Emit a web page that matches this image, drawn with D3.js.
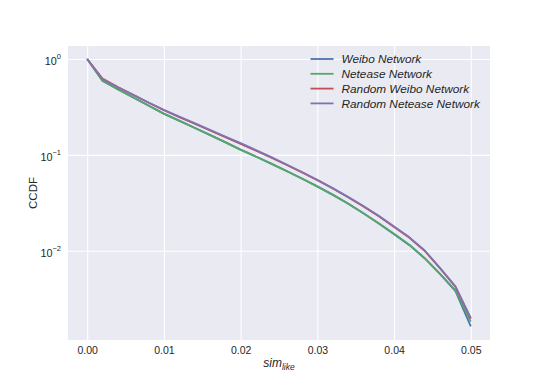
<!DOCTYPE html>
<html>
<head>
<meta charset="utf-8">
<script src="https://cdn.jsdelivr.net/npm/d3@7"></script>
<style>
  body { margin: 0; background: #fff; }
  svg text { font-family: "Liberation Sans", Arial, sans-serif; fill: #262626; }
</style>
</head>
<body>
<div id="chart"></div>
<script>
// x positions (sim_like)
const simLike = [0, 0.002, 0.004, 0.006, 0.008, 0.010, 0.012, 0.014, 0.016, 0.018, 0.020,
  0.022, 0.024, 0.026, 0.028, 0.030, 0.032, 0.034, 0.036, 0.038, 0.040,
  0.042, 0.044, 0.046, 0.048, 0.050];

// CCDF values
const weibo = [1.0, 0.592, 0.483, 0.398, 0.3265, 0.269, 0.2275, 0.1918, 0.1618, 0.1357, 0.1134,
  0.0961, 0.0811, 0.0680, 0.0567, 0.0469, 0.0385, 0.0311, 0.0246, 0.0193, 0.0149,
  0.01145, 0.00832, 0.00570, 0.00380, 0.00163];
const netease = [1.0, 0.590, 0.481, 0.396, 0.3248, 0.2674, 0.226, 0.1906, 0.1608, 0.1349, 0.1127,
  0.0955, 0.0806, 0.0676, 0.0564, 0.0467, 0.0383, 0.0310, 0.0246, 0.0194, 0.01503,
  0.01155, 0.00839, 0.00576, 0.00386, 0.00183];
const randomWeibo = [1.0, 0.625, 0.509, 0.423, 0.350, 0.292, 0.2475, 0.2110, 0.1795, 0.1530, 0.1302,
  0.1105, 0.0932, 0.0784, 0.0655, 0.0544, 0.0446, 0.0362, 0.0290, 0.0229, 0.0177,
  0.01365, 0.00995, 0.00655, 0.00420, 0.00196];
const randomNetease = [1.0, 0.614, 0.505, 0.422, 0.3513, 0.2942, 0.2506, 0.2139, 0.1822, 0.1555, 0.1324,
  0.1122, 0.0946, 0.0794, 0.0662, 0.0549, 0.0450, 0.0365, 0.0293, 0.0232, 0.0179,
  0.01382, 0.01007, 0.0066, 0.00425, 0.00199];

const seriesNames = ["Weibo Network", "Netease Network", "Random Weibo Network", "Random Netease Network"];
const seriesValues = [weibo, netease, randomWeibo, randomNetease];
const colors = ["#4C72B0", "#55A868", "#C44E52", "#8172B2"];

const xTicks = [0, 0.01, 0.02, 0.03, 0.04, 0.05];
const yTicks = [1, 0.1, 0.01];
const yExponents = ["0", "\u22121", "\u22122"];

const W = 545, H = 382;
const margin = { left: 68, top: 46, right: 55, bottom: 42 };
const width = W - margin.left - margin.right;
const height = H - margin.top - margin.bottom;

const svg = d3.select("#chart").append("svg")
  .attr("width", W)
  .attr("height", H);

const g = svg.append("g").attr("transform", `translate(${margin.left},${margin.top})`);

g.append("rect")
  .attr("width", width)
  .attr("height", height)
  .attr("fill", "#EAEAF2");

const x = d3.scaleLinear().domain([-0.0025, 0.0525]).range([0, width]);
const y = d3.scaleLog().domain([Math.pow(10, -2.93), Math.pow(10, 0.135)]).range([height, 0]);

// x grid + labels
const xAxis = g.append("g")
  .attr("transform", `translate(0,${height})`)
  .call(d3.axisBottom(x).tickValues(xTicks).tickSize(-height).tickPadding(7).tickFormat(d3.format(".2f")));
xAxis.select(".domain").remove();
xAxis.selectAll(".tick line").attr("stroke", "#fff").attr("stroke-width", 1.1);
xAxis.selectAll(".tick text").attr("font-size", 10.5).attr("fill", "#262626");

// y grid + labels
const yAxis = g.append("g")
  .call(d3.axisLeft(y).tickValues(yTicks).tickSize(-width).tickPadding(7).tickFormat(() => ""));
yAxis.select(".domain").remove();
yAxis.selectAll(".tick line").attr("stroke", "#fff").attr("stroke-width", 1.1);
yAxis.selectAll(".tick text").each(function (d, i) {
  const t = d3.select(this).attr("font-size", 10.8).attr("fill", "#262626").attr("dy", "0.55em");
  t.append("tspan").text("10");
  t.append("tspan").attr("font-size", 7.5).attr("dy", "-0.85em").text(yExponents[i]);
});

// lines
const line = d3.line()
  .x((d, i) => x(simLike[i]))
  .y(d => y(d));

seriesValues.forEach((vals, i) => {
  g.append("path")
    .datum(vals)
    .attr("fill", "none")
    .attr("stroke", colors[i])
    .attr("stroke-width", 1.8)
    .attr("stroke-linejoin", "round")
    .attr("d", line);
});

// legend
const legend = g.append("g").attr("transform", `translate(${310.5 - margin.left},${59 - margin.top})`);
seriesNames.forEach((name, i) => {
  const row = legend.append("g").attr("transform", `translate(0,${i * 14.8})`);
  row.append("line")
    .attr("x1", 0).attr("x2", 23)
    .attr("stroke", colors[i])
    .attr("stroke-width", 1.8);
  row.append("text")
    .attr("x", 31)
    .attr("dy", "0.35em")
    .attr("font-size", 11.8)
    .attr("font-style", "italic")
    .text(name);
});

// axis titles
g.append("text")
  .attr("transform", `translate(${33 - margin.left},${height / 2}) rotate(-90)`)
  .attr("text-anchor", "middle")
  .attr("dy", "0.35em")
  .attr("font-size", 11.5)
  .text("CCDF");

const xl = g.append("text")
  .attr("x", width / 2)
  .attr("y", height + 27)
  .attr("text-anchor", "middle")
  .attr("font-size", 12)
  .attr("font-style", "italic");
xl.append("tspan").text("sim");
xl.append("tspan").attr("font-size", 8.5).attr("dy", "0.35em").text("like");
</script>
</body>
</html>
